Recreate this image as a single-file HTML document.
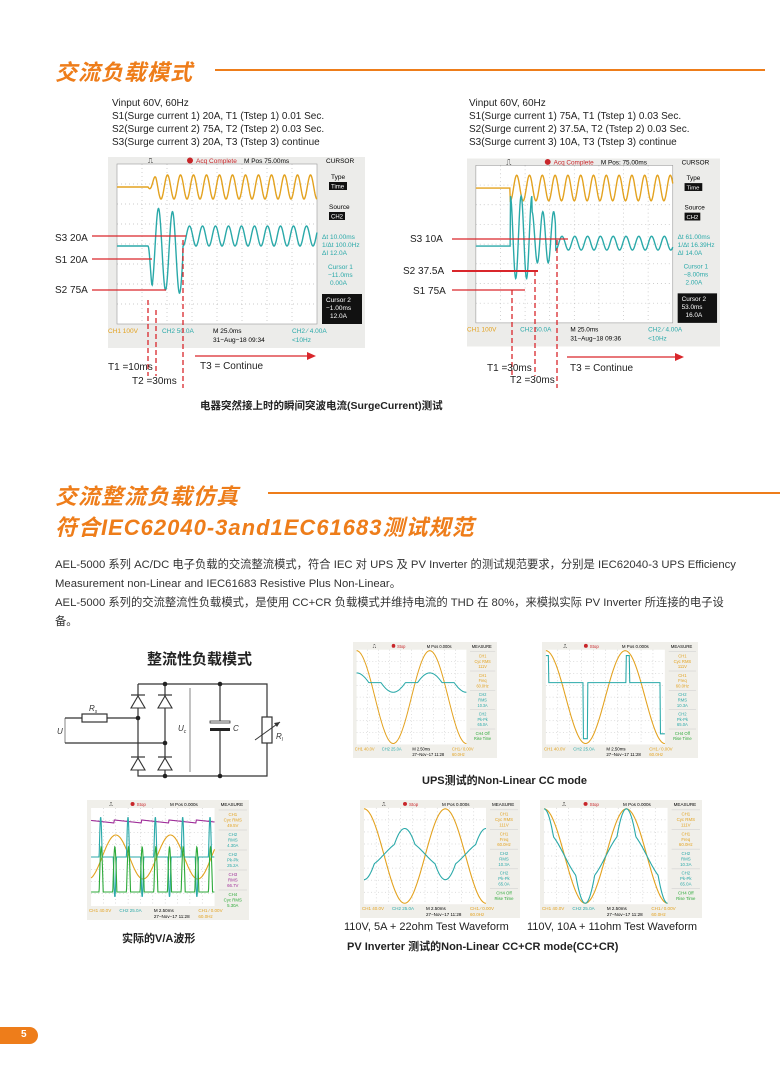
<!DOCTYPE html>
<html><head><meta charset="utf-8">
<style>
*{margin:0;padding:0;box-sizing:border-box}
body{width:780px;height:1081px;background:#fff;position:relative;overflow:hidden;font-family:"Liberation Sans","Noto Sans CJK SC",sans-serif;color:#222}
.a{position:absolute;white-space:nowrap}
.h{color:#ee7d1a;font-weight:bold;font-style:italic;font-size:22px;letter-spacing:1px;font-family:"Liberation Sans","Noto Sans CJK SC",sans-serif}
.hl{position:absolute;height:2px;background:#ee7d1a}
.t10{font-size:10px;line-height:13px}
.p{font-size:11.3px;line-height:19px;color:#333}
.cap{font-size:11px;font-weight:bold}
svg{position:absolute;overflow:visible}
</style></head><body>

<div class="a h" style="left:55px;top:55px">交流负载模式</div>
<div class="hl" style="left:215px;top:69px;width:550px"></div>

<div class="a t10" style="left:112px;top:97px">Vinput 60V, 60Hz<br>S1(Surge current 1) 20A, T1 (Tstep 1) 0.01 Sec.<br>S2(Surge current 2) 75A, T2 (Tstep 2) 0.03 Sec.<br>S3(Surge current 3) 20A, T3 (Tstep 3) continue</div>
<div class="a t10" style="left:469px;top:97px">Vinput 60V, 60Hz<br>S1(Surge current 1) 75A, T1 (Tstep 1) 0.03 Sec.<br>S2(Surge current 2) 37.5A, T2 (Tstep 2) 0.03 Sec.<br>S3(Surge current 3) 10A, T3 (Tstep 3) continue</div>

<svg style="left:108px;top:157px" width="257" height="191" viewBox="0 0 257 191">
<rect width="257" height="191" fill="#ececea"/>
<rect x="9" y="7" width="200" height="160" fill="#fff"/>
<g stroke="#bbb" stroke-dasharray="1 3" stroke-width="0.7">
<line x1="34" y1="7" x2="34" y2="167"/><line x1="59" y1="7" x2="59" y2="167"/><line x1="84" y1="7" x2="84" y2="167"/><line x1="109" y1="7" x2="109" y2="167"/><line x1="134" y1="7" x2="134" y2="167"/><line x1="159" y1="7" x2="159" y2="167"/><line x1="184" y1="7" x2="184" y2="167"/>
<line x1="9" y1="27" x2="209" y2="27"/><line x1="9" y1="47" x2="209" y2="47"/><line x1="9" y1="67" x2="209" y2="67"/><line x1="9" y1="87" x2="209" y2="87"/><line x1="9" y1="107" x2="209" y2="107"/><line x1="9" y1="127" x2="209" y2="127"/><line x1="9" y1="147" x2="209" y2="147"/>
</g>
<rect x="9" y="7" width="200" height="160" fill="none" stroke="#999" stroke-width="0.6"/>
<path id="o1" fill="none" stroke="#e3a21f" stroke-width="1.4"/>
<path id="c1" fill="none" stroke="#2aa9a9" stroke-width="1.4"/>
<text x="40" y="6" font-size="7">⎍</text>
<circle cx="82" cy="3.5" r="3" fill="#c8262a"/>
<text x="88" y="6" font-size="6.5" fill="#c8262a">Acq Complete</text>
<text x="136" y="6" font-size="6.5">M Pos 75.00ms</text>
<text x="218" y="6" font-size="6.5">CURSOR</text>
<text x="223" y="22" font-size="6.5">Type</text><rect x="221" y="25" width="18" height="8" fill="#111"/><text x="223" y="31.5" font-size="6" fill="#fff">Time</text>
<text x="221" y="52" font-size="6.5">Source</text><rect x="221" y="55" width="16" height="8" fill="#111"/><text x="223" y="61.5" font-size="6" fill="#fff">CH2</text>
<g font-size="6.5" fill="#2aa9a9"><text x="214" y="82">Δt 10.00ms</text><text x="214" y="90">1/Δt 100.0Hz</text><text x="214" y="98">ΔI 12.0A</text><text x="220" y="112">Cursor 1</text><text x="220" y="120">−11.0ms</text><text x="222" y="128">0.00A</text></g>
<rect x="214" y="137" width="40" height="30" fill="#111"/>
<g font-size="6.5" fill="#fff"><text x="218" y="145">Cursor 2</text><text x="218" y="153">−1.00ms</text><text x="222" y="161">12.0A</text></g>
<g font-size="6.5"><text x="0" y="176" fill="#e3a21f">CH1  100V</text><text x="54" y="176" fill="#2aa9a9">CH2  50.0A</text><text x="105" y="176">M 25.0ms</text><text x="105" y="185">31−Aug−18 09:34</text><text x="184" y="176" fill="#2aa9a9">CH2 ⁄ 4.00A</text><text x="184" y="185" fill="#2aa9a9">&lt;10Hz</text></g>
</svg>

<svg style="left:467px;top:157px" width="253" height="191" viewBox="0 0 257 191">
<rect width="257" height="191" fill="#ececea"/>
<rect x="9" y="7" width="200" height="160" fill="#fff"/>
<g stroke="#bbb" stroke-dasharray="1 3" stroke-width="0.7">
<line x1="34" y1="7" x2="34" y2="167"/><line x1="59" y1="7" x2="59" y2="167"/><line x1="84" y1="7" x2="84" y2="167"/><line x1="109" y1="7" x2="109" y2="167"/><line x1="134" y1="7" x2="134" y2="167"/><line x1="159" y1="7" x2="159" y2="167"/><line x1="184" y1="7" x2="184" y2="167"/>
<line x1="9" y1="27" x2="209" y2="27"/><line x1="9" y1="47" x2="209" y2="47"/><line x1="9" y1="67" x2="209" y2="67"/><line x1="9" y1="87" x2="209" y2="87"/><line x1="9" y1="107" x2="209" y2="107"/><line x1="9" y1="127" x2="209" y2="127"/><line x1="9" y1="147" x2="209" y2="147"/>
</g>
<rect x="9" y="7" width="200" height="160" fill="none" stroke="#999" stroke-width="0.6"/>
<path id="o2" fill="none" stroke="#e3a21f" stroke-width="1.4"/>
<path id="c2" fill="none" stroke="#2aa9a9" stroke-width="1.4"/>
<text x="40" y="6" font-size="7">⎍</text>
<circle cx="82" cy="3.5" r="3" fill="#c8262a"/>
<text x="88" y="6" font-size="6.5" fill="#c8262a">Acq Complete</text>
<text x="136" y="6" font-size="6.5">M Pos: 75.00ms</text>
<text x="218" y="6" font-size="6.5">CURSOR</text>
<text x="223" y="22" font-size="6.5">Type</text><rect x="221" y="25" width="18" height="8" fill="#111"/><text x="223" y="31.5" font-size="6" fill="#fff">Time</text>
<text x="221" y="52" font-size="6.5">Source</text><rect x="221" y="55" width="16" height="8" fill="#111"/><text x="223" y="61.5" font-size="6" fill="#fff">CH2</text>
<g font-size="6.5" fill="#2aa9a9"><text x="214" y="82">Δt 61.00ms</text><text x="214" y="90">1/Δt 16.39Hz</text><text x="214" y="98">ΔI 14.0A</text><text x="220" y="112">Cursor 1</text><text x="220" y="120">−8.00ms</text><text x="222" y="128">2.00A</text></g>
<rect x="214" y="137" width="40" height="30" fill="#111"/>
<g font-size="6.5" fill="#fff"><text x="218" y="145">Cursor 2</text><text x="218" y="153">53.0ms</text><text x="222" y="161">16.0A</text></g>
<g font-size="6.5"><text x="0" y="176" fill="#e3a21f">CH1  100V</text><text x="54" y="176" fill="#2aa9a9">CH2  50.0A</text><text x="105" y="176">M 25.0ms</text><text x="105" y="185">31−Aug−18 09:36</text><text x="184" y="176" fill="#2aa9a9">CH2 ⁄ 4.00A</text><text x="184" y="185" fill="#2aa9a9">&lt;10Hz</text></g>
</svg>

<svg style="left:0;top:0" width="780" height="420">
<g stroke="#d9262b" stroke-width="1.3">
<line x1="92" y1="236" x2="186" y2="236"/><line x1="92" y1="259" x2="152" y2="259"/><line x1="92" y1="290" x2="166" y2="290"/>
<g stroke-dasharray="5 3"><line x1="148" y1="300" x2="148" y2="376"/><line x1="156" y1="310" x2="156" y2="376"/><line x1="183" y1="240" x2="183" y2="388"/></g>
<line x1="195" y1="356" x2="308" y2="356"/>
<line x1="452" y1="239" x2="568" y2="239"/><line x1="452" y1="271" x2="538" y2="271" stroke-width="2"/><line x1="452" y1="290" x2="525" y2="290"/>
<g stroke-dasharray="5 3"><line x1="512" y1="290" x2="512" y2="376"/><line x1="535" y1="271" x2="535" y2="376"/><line x1="557" y1="240" x2="557" y2="388"/></g>
<line x1="567" y1="357" x2="676" y2="357"/>
</g>
<path d="M316 356 L307 352 L307 360Z" fill="#d9262b"/>
<path d="M684 357 L675 353 L675 361Z" fill="#d9262b"/>
</svg>
<div class="a t10" style="left:55px;top:232px">S3 20A</div>
<div class="a t10" style="left:55px;top:254px">S1 20A</div>
<div class="a t10" style="left:55px;top:284px">S2 75A</div>
<div class="a t10" style="left:108px;top:361px">T1 =10ms</div>
<div class="a t10" style="left:132px;top:375px">T2 =30ms</div>
<div class="a t10" style="left:200px;top:360px">T3 = Continue</div>
<div class="a t10" style="left:410px;top:233px">S3 10A</div>
<div class="a t10" style="left:403px;top:265px">S2 37.5A</div>
<div class="a t10" style="left:413px;top:285px">S1 75A</div>
<div class="a t10" style="left:487px;top:362px">T1 =30ms</div>
<div class="a t10" style="left:510px;top:374px">T2 =30ms</div>
<div class="a t10" style="left:570px;top:362px">T3 = Continue</div>

<div class="a cap" style="left:200px;top:398px;font-size:10.5px">电器突然接上时的瞬间突波电流(SurgeCurrent)测试</div>

<div class="a h" style="left:55px;top:479px">交流整流负载仿真</div>
<div class="hl" style="left:268px;top:492px;width:512px"></div>
<div class="a h" style="left:55px;top:510px">符合IEC62040-3and1EC61683测试规范</div>

<div class="a p" style="left:55px;top:556px">AEL-5000 系列 AC/DC 电子负载的交流整流模式，符合 IEC 对 UPS 及 PV Inverter 的测试规范要求，分别是 IEC62040-3 UPS Efficiency<br>Measurement non-Linear and IEC61683 Resistive Plus Non-Linear。<br>AEL-5000 系列的交流整流性负载模式，是使用 CC+CR 负载模式并维持电流的 THD 在 80%，来模拟实际 PV Inverter 所连接的电子设<br>备。</div>

<div class="a" style="left:147px;top:648px;font-size:15px;font-weight:bold">整流性负载模式</div>

<svg style="left:0;top:0" width="300" height="790">
<g stroke="#333" stroke-width="1.2" fill="none">
<polyline points="138,684 267,684 267,776 138,776 138,684"/>
<line x1="165" y1="684" x2="165" y2="776"/>
<line x1="65" y1="718" x2="138" y2="718"/>
<line x1="65" y1="743" x2="165" y2="743"/>
<line x1="65" y1="718" x2="65" y2="743" stroke-width="0.6"/>
<rect x="82" y="714" width="25" height="8" fill="#fff"/>
<line x1="220" y1="684" x2="220" y2="722"/><line x1="220" y1="730" x2="220" y2="776"/>
<rect x="262" y="717" width="10" height="26" fill="#fff"/>
<line x1="255" y1="740" x2="280" y2="722" stroke-width="1"/>
<line x1="190" y1="688" x2="190" y2="772" stroke-width="0.6"/>
</g>
<path d="M280 722 L274 723 L277 727Z" fill="#333"/>
<rect x="210" y="721" width="20" height="2" fill="#fff" stroke="#333" stroke-width="0.8"/>
<rect x="210" y="728" width="20" height="3" fill="#222"/>
<g fill="#fff" stroke="#333" stroke-width="1.1">
<path d="M131 708 L145 708 L138 696Z"/><path d="M158 708 L172 708 L165 696Z"/>
<path d="M131 770 L145 770 L138 758Z"/><path d="M158 770 L172 770 L165 758Z"/>
</g>
<g stroke="#333" stroke-width="1.2"><line x1="131" y1="695" x2="145" y2="695"/><line x1="158" y1="695" x2="172" y2="695"/><line x1="131" y1="757" x2="145" y2="757"/><line x1="158" y1="757" x2="172" y2="757"/></g>
<g fill="#222"><circle cx="165" cy="684" r="2.3"/><circle cx="220" cy="684" r="2.3"/><circle cx="138" cy="718" r="2.3"/><circle cx="165" cy="743" r="2.3"/><circle cx="165" cy="776" r="2.3"/><circle cx="220" cy="776" r="2.3"/></g>
<g font-size="8" font-style="italic" fill="#333"><text x="89" y="711">R<tspan font-size="5" dy="2">s</tspan></text><text x="57" y="734">U</text><text x="178" y="731">U<tspan font-size="5" dy="2">c</tspan></text><text x="233" y="731">C</text><text x="276" y="739">R<tspan font-size="5" dy="2">l</tspan></text></g>
</svg>

<svg style="left:353px;top:642px" width="144" height="116" viewBox="0 0 160 120" preserveAspectRatio="none" id="s1"></svg>
<svg style="left:542px;top:642px" width="156" height="116" viewBox="0 0 160 120" preserveAspectRatio="none" id="s2"></svg>
<div class="a cap" style="left:422px;top:772px">UPS测试的Non-Linear CC mode</div>

<svg style="left:87px;top:800px" width="162" height="120" viewBox="0 0 160 120" preserveAspectRatio="none" id="s3"></svg>
<div class="a cap" style="left:122px;top:930px">实际的V/A波形</div>

<svg style="left:360px;top:800px" width="160" height="118" viewBox="0 0 160 120" preserveAspectRatio="none" id="s4"></svg>
<svg style="left:540px;top:800px" width="162" height="118" viewBox="0 0 160 120" preserveAspectRatio="none" id="s5"></svg>
<div class="a" style="left:344px;top:921px;font-size:11px">110V, 5A + 22ohm Test Waveform</div>
<div class="a" style="left:527px;top:921px;font-size:11px">110V, 10A + 11ohm Test Waveform</div>
<div class="a cap" style="left:347px;top:938px">PV Inverter 测试的Non-Linear CC+CR mode(CC+CR)</div>

<div class="a" style="left:0;top:1027px;width:38px;height:17px;background:#ee7d1a;border-radius:0 9px 9px 0;color:#fff;font-size:10px;font-weight:bold;padding:2px 0 0 21px">5</div>

<script>
function P(f,x0,x1,st){st=st||0.5;var r='';for(var x=x0;x<=x1+1e-6;x+=st){r+=(r?'L':'M')+x.toFixed(1)+' '+f(x).toFixed(1);}return r;}
var S=Math.sin,PI=Math.PI;
document.getElementById('o1').setAttribute('d',P(function(x){if(x<40)return 30;return 30+12*S((x-40)/13*2*PI+PI/2)*(x<48?(x-40)/8:1);},9,209));
document.getElementById('c1').setAttribute('d',P(function(x){if(x<40)return 89;if(x<75){var e=(x-40)/35;return 89+(40*S((x-40)/14*2*PI))*(x<44?(x-40)/4:1)+8*e;}return 79+10*S((x-75)/13*2*PI+PI/2);},9,209,0.4));
document.getElementById('o2').setAttribute('d',P(function(x){if(x<44)return 30;return 30+13*S((x-44)/13*2*PI+PI/2);},9,209));
document.getElementById('c2').setAttribute('d',P(function(x){if(x<44)return 89;if(x<90){var a=x<66?42:26;return 80+a*S((x-44)/11*2*PI-PI/2);}return 86+7*S((x-90)/13*2*PI+PI/2);},9,209,0.4));
function ph(x){return (x-4)/122*3*Math.PI;}
function mk(id,waves,panel){var el=document.getElementById(id);var h='<rect width="160" height="120" fill="#f0efea"/><rect x="4" y="8" width="122" height="98" fill="#fff"/>';
for(var i=1;i<10;i++)h+='<line x1="'+(4+i*12.2)+'" y1="8" x2="'+(4+i*12.2)+'" y2="106" stroke="#bbb" stroke-width="0.5" stroke-dasharray="1 2.5"/>';
for(var j=1;j<8;j++)h+='<line x1="4" y1="'+(8+j*12.25)+'" x2="126" y2="'+(8+j*12.25)+'" stroke="#bbb" stroke-width="0.5" stroke-dasharray="1 2.5"/>';
h+='<text x="22" y="6" font-size="5">⎍</text><circle cx="45" cy="4" r="2" fill="#c8262a"/><text x="49" y="6" font-size="4.5" fill="#c8262a">Stop</text><text x="82" y="6" font-size="4.5">M Pos 0.000s</text><text x="132" y="6" font-size="4.5">MEASURE</text>';
for(var k=0;k<waves.length;k++)h+='<path d="'+waves[k][1]+'" fill="none" stroke="'+waves[k][0]+'" stroke-width="1.1"/>';
for(var m=0;m<5;m++){h+='<line x1="130" y1="'+(10+m*20)+'" x2="158" y2="'+(10+m*20)+'" stroke="#ccc" stroke-width="0.5"/>';var t=panel[m];for(var n=1;n<t.length;n++)h+='<text x="144" y="'+(16+m*20+(n-1)*5.5)+'" font-size="4.3" text-anchor="middle" fill="'+t[0]+'">'+t[n]+'</text>';}
h+='<text x="2" y="112" font-size="4.5" fill="#e3a21f">CH1  40.0V</text><text x="32" y="112" font-size="4.5" fill="#2aa9a9">CH2  25.0A</text><text x="66" y="112" font-size="4.5">M 2.50ms</text><text x="66" y="118" font-size="4.5">27−Nov−17 11:28</text><text x="110" y="112" font-size="4.5" fill="#e3a21f">CH1 ⁄ 0.00V</text><text x="110" y="118" font-size="4.5" fill="#e3a21f">60.0Hz</text>';
el.innerHTML=h;}
var OR='#e3a21f',TE='#2aa9a9',GR='#2eaa3a',PU='#a0309a';
var pnl=[[OR,'CH1','Cyc RMS','111V'],[OR,'CH1','Freq','60.0Hz'],[TE,'CH2','RMS','10.3A'],[TE,'CH2','Pk-Pk','65.0A'],[GR,'CH4 Off','Rise Time']];
function vs(x){return 57-48*Math.cos(ph(x));}
mk('s1',[[OR,P(vs,4,126)],[TE,P(function(x){var c=Math.cos(ph(x));var v=0;if(Math.abs(c)>0.5)v=(c>0?1:-1)*(Math.abs(c)-0.5)*20;return 42-v;},4,126)]],pnl);
mk('s2',[[OR,P(vs,4,126)],[TE,P(function(x){if(x<7)return 14;if(x<9)return 42;if(x>42&&x<47)return 100;if(x>86&&x<90)return 14;if(x>121)return 95;return 42;},4,126,0.5)]],pnl);
mk('s3',[[PU,P(function(x){return 20+3*((x%27)/27);},4,126)],[OR,P(function(x){return 57+22*Math.cos((x-4)/27*PI+0.3);},4,126)],[TE,P(function(x){var p=((x-12)%27+27)%27;if(p<3)return 57-40*S(p/3*PI);var q=((x-26)%27+27)%27;if(q<3)return 57+40*S(q/3*PI);return 57;},4,126,0.3)],[GR,P(function(x){var p=((x-12)%13.5+13.5)%13.5;if(p<4)return 92-45*S(p/4*PI);return 92;},4,126,0.3)]],[[OR,'CH1','Cyc RMS','49.5V'],[TE,'CH2','RMS','4.30A'],[TE,'CH2','Pk-Pk','25.2A'],[PU,'CH3','RMS','66.7V'],[GR,'CH4','Cyc RMS','5.30A']]);
mk('s4',[[OR,P(vs,4,126)],[TE,P(function(x){var c=Math.cos(ph(x));var v=c*14;if(Math.abs(c)>0.7)v+=(c>0?1:-1)*(Math.abs(c)-0.7)*40;return 55+v;},4,126)]],pnl);
mk('s5',[[OR,P(vs,4,126)],[TE,P(function(x){var c=Math.cos(ph(x));var v=c*26;if(Math.abs(c)>0.75)v+=(c>0?1:-1)*(Math.abs(c)-0.75)*88;return 57-v;},4,126)]],pnl);
</script>
</body></html>
